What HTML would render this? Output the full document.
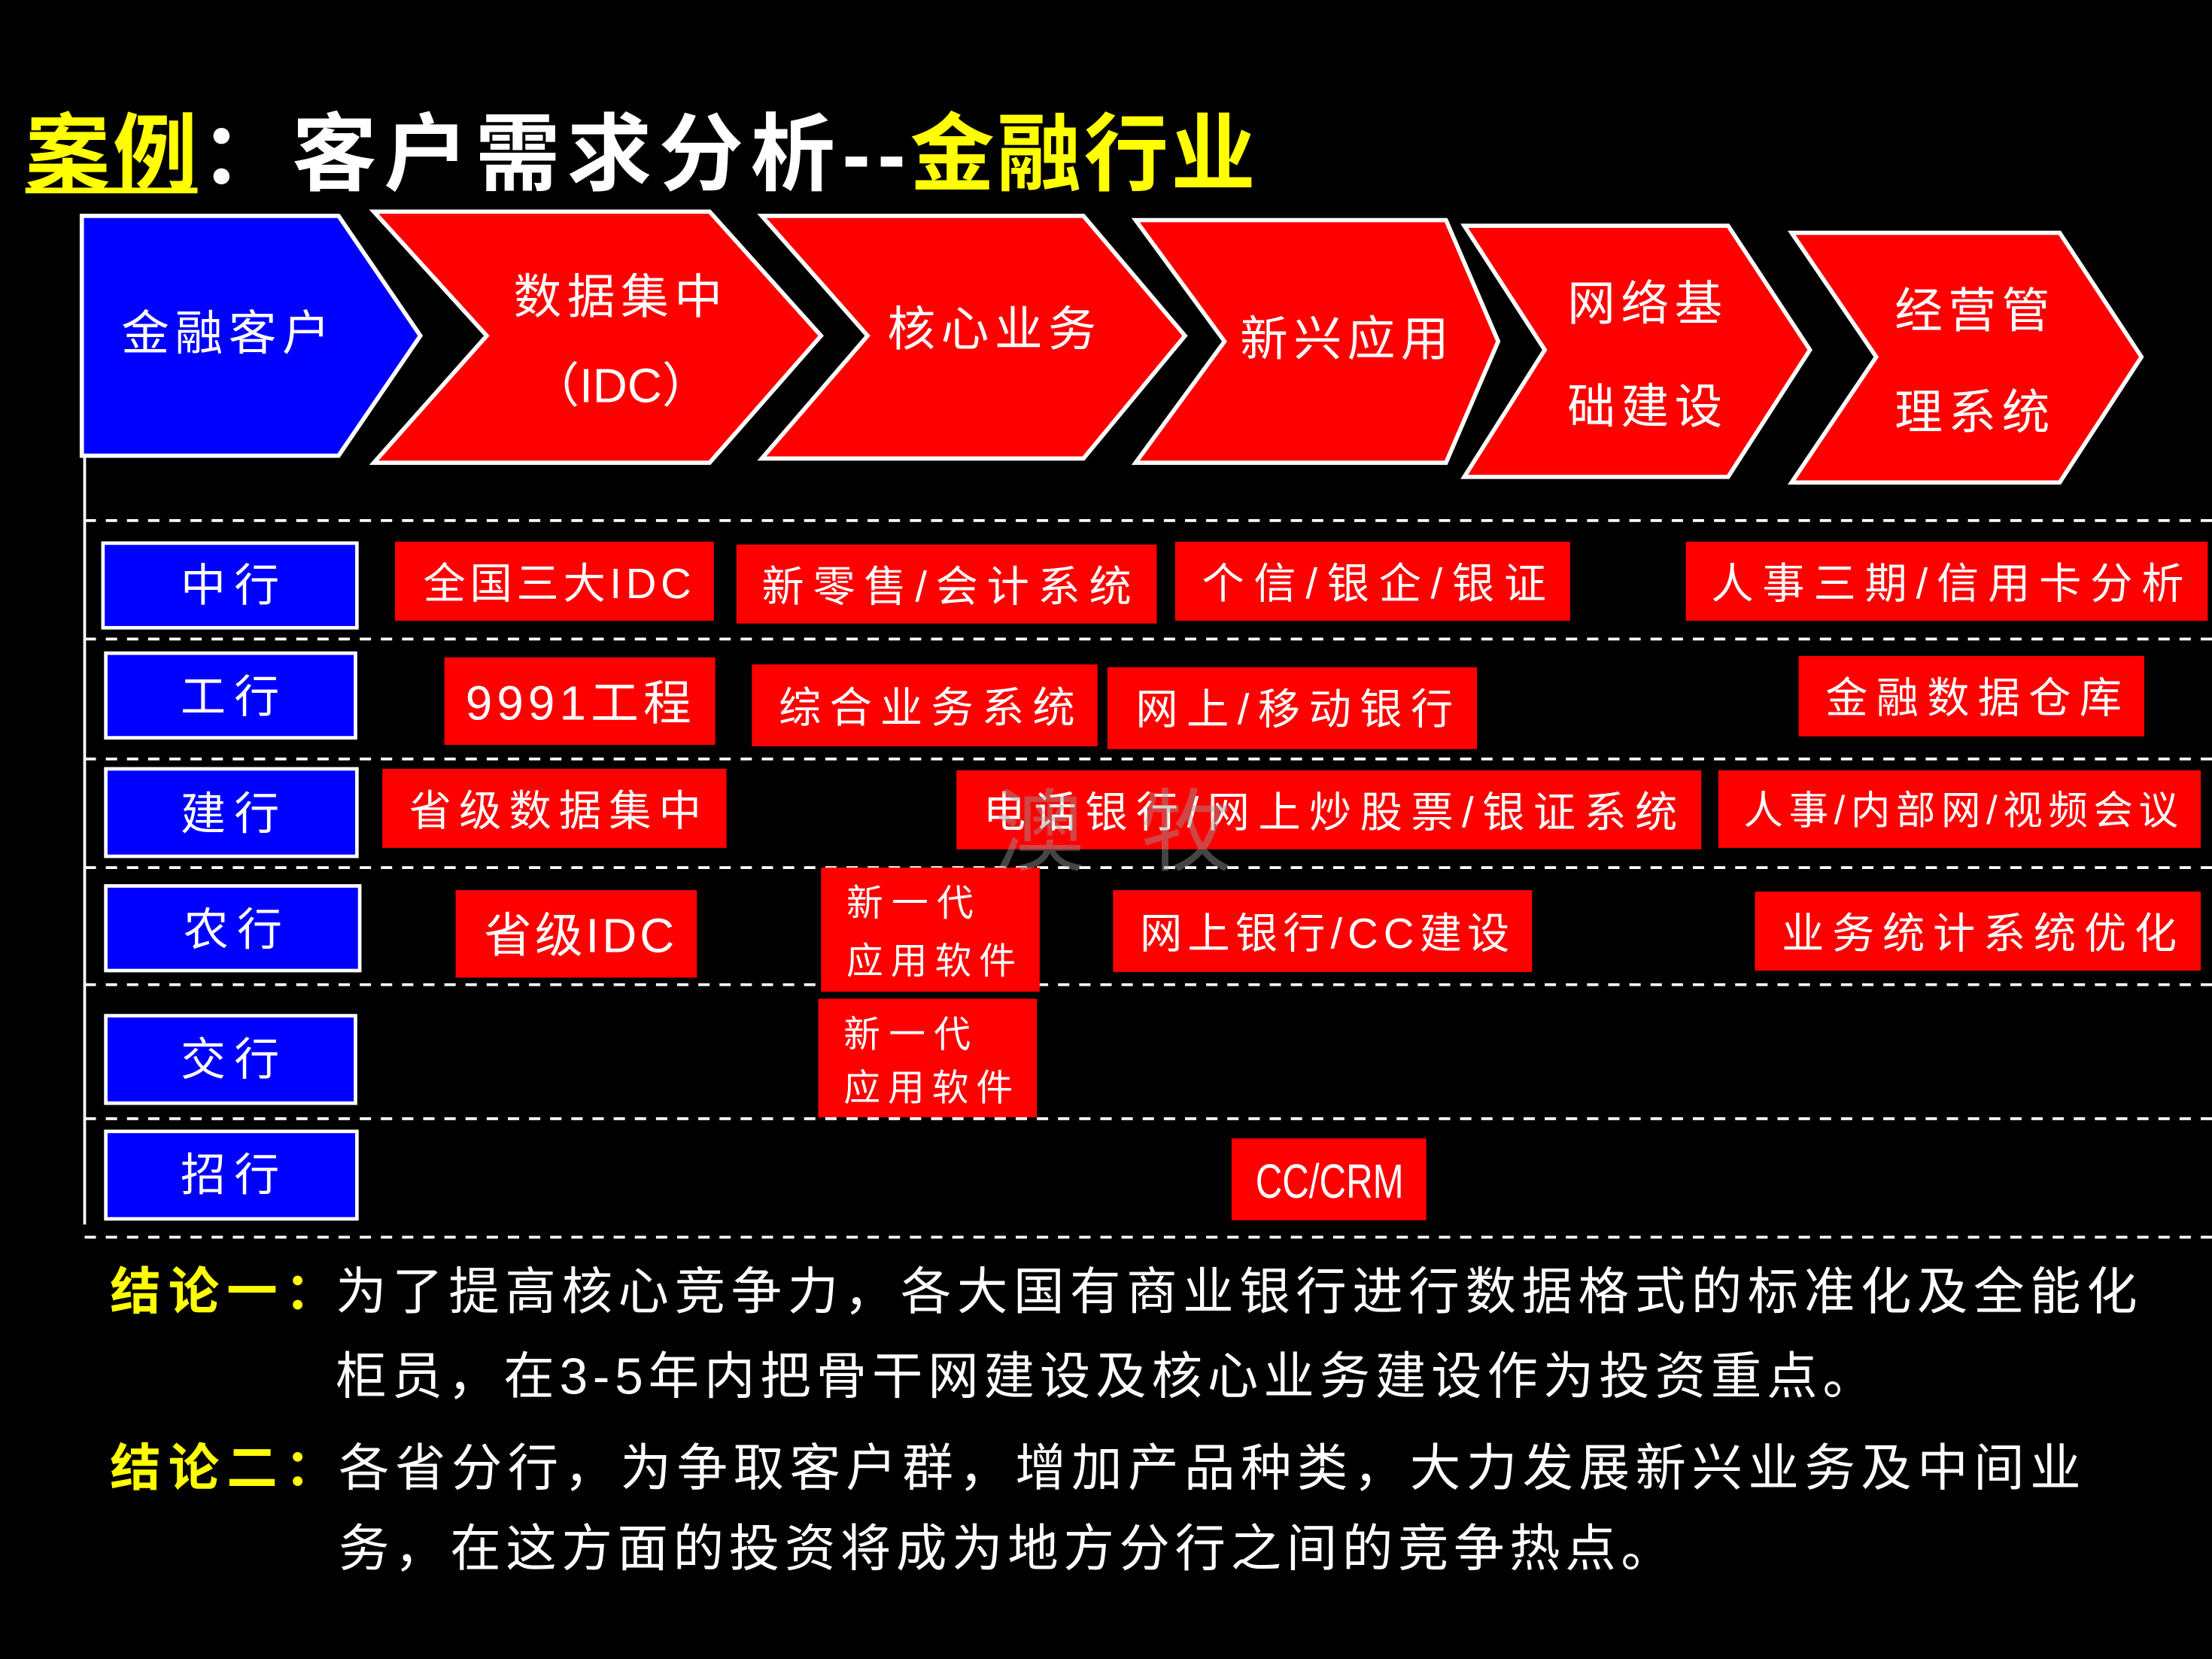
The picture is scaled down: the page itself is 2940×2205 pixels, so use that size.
<!DOCTYPE html>
<html><head><meta charset="utf-8"><style>
html,body{margin:0;padding:0;background:#000;}
svg{display:block;}
text{font-family:"Liberation Sans","Noto Sans CJK SC",sans-serif;}
</style></head><body>
<svg width="2940" height="2205" viewBox="0 0 1568 1176" xmlns="http://www.w3.org/2000/svg">
<rect width="1568" height="1176" fill="#000"/>
<!-- title -->
<text x="18" y="130" font-size="60" font-weight="bold" fill="#ffff00" textLength="122">案例</text>
<rect x="18" y="133" width="122" height="4" fill="#ffff00"/>
<text x="142" y="130" font-size="60" font-weight="bold" fill="#fff" textLength="500">：客户需求分析--</text>
<text x="645" y="130" font-size="60" font-weight="bold" fill="#ffff00" textLength="245">金融行业</text>

<!-- chevrons -->
<g stroke="#fff" stroke-width="3">
<polygon points="58,153 240,153 298,238 240,323 58,323" fill="#0000ff"/>
<polygon points="265,150 503,150 582,238 503,328 265,328 345,238" fill="#ff0000"/>
<polygon points="540,153 768,153 840,238 768,325 540,325 615,238" fill="#ff0000"/>
<polygon points="805,156 1025,156 1062,242 1025,328 805,328 868,242" fill="#ff0000"/>
<polygon points="1038,160 1225,160 1283,248 1225,338 1038,338 1095,248" fill="#ff0000"/>
<polygon points="1270,165 1460,165 1518,253 1460,342 1270,342 1330,253" fill="#ff0000"/>
</g>
<g fill="#fff" font-size="34" text-anchor="middle">
<text x="162" y="248" letter-spacing="4">金融客户</text>
<text x="440" y="222" letter-spacing="4">数据集中</text>
<text x="440" y="285">（IDC）</text>
<text x="705" y="245" letter-spacing="4">核心业务</text>
<text x="955" y="252" letter-spacing="4">新兴应用</text>
<text x="1168" y="227" letter-spacing="4">网络基</text>
<text x="1168" y="300" letter-spacing="4">础建设</text>
<text x="1400" y="232" letter-spacing="4">经营管</text>
<text x="1400" y="304" letter-spacing="4">理系统</text>
</g>

<!-- grid -->
<line x1="60" y1="323" x2="60" y2="868" stroke="#fff" stroke-width="2"/>
<g stroke="#fff" stroke-width="2" stroke-dasharray="8,7">
<line x1="60" y1="369" x2="1568" y2="369"/>
<line x1="60" y1="453" x2="1568" y2="453"/>
<line x1="60" y1="538" x2="1568" y2="538"/>
<line x1="60" y1="615" x2="1568" y2="615"/>
<line x1="60" y1="698" x2="1568" y2="698"/>
<line x1="60" y1="793" x2="1568" y2="793"/>
<line x1="60" y1="877" x2="1568" y2="877"/>
</g>

<!-- bank boxes -->
<g fill="#0000ff" stroke="#fff" stroke-width="2.5">
<rect x="73" y="385" width="180" height="60"/>
<rect x="75" y="463" width="177" height="60"/>
<rect x="75" y="545" width="178" height="62"/>
<rect x="75" y="628" width="180" height="60"/>
<rect x="75" y="720" width="177" height="62"/>
<rect x="75" y="802" width="178" height="62"/>
</g>
<g fill="#fff" font-size="32" text-anchor="middle" letter-spacing="6">
<text x="166" y="426">中行</text>
<text x="166" y="505">工行</text>
<text x="166" y="588">建行</text>
<text x="168" y="670">农行</text>
<text x="166" y="762">交行</text>
<text x="166" y="844">招行</text>
</g>

<!-- red boxes -->
<g fill="#ff0000">
<rect x="280" y="384" width="226" height="56"/>
<rect x="522" y="386" width="298" height="56"/>
<rect x="833" y="384" width="280" height="56"/>
<rect x="1195" y="384" width="370" height="56"/>
<rect x="315" y="466" width="192" height="62"/>
<rect x="533" y="471" width="245" height="58"/>
<rect x="785" y="473" width="262" height="58"/>
<rect x="1275" y="465" width="245" height="57"/>
<rect x="271" y="545" width="244" height="56"/>
<rect x="678" y="546" width="528" height="56"/>
<rect x="1218" y="546" width="342" height="55"/>
<rect x="323" y="631" width="171" height="62"/>
<rect x="582" y="615" width="155" height="88"/>
<rect x="789" y="631" width="297" height="58"/>
<rect x="1244" y="632" width="316" height="56"/>
<rect x="580" y="708" width="155" height="84"/>
<rect x="873" y="807" width="138" height="58"/>
</g>
<g fill="#fff" font-size="30">
<text x="300" y="424" textLength="190">全国三大IDC</text>
<text x="540" y="426" textLength="262">新零售/会计系统</text>
<text x="852" y="424" textLength="244">个信/银企/银证</text>
<text x="1213" y="424" textLength="335">人事三期/信用卡分析</text>
<text x="330" y="510" font-size="34" textLength="160">9991工程</text>
<text x="552" y="512" textLength="210">综合业务系统</text>
<text x="805" y="513" textLength="225">网上/移动银行</text>
<text x="1294" y="505" textLength="210">金融数据仓库</text>
<text x="290" y="585" textLength="207">省级数据集中</text>
<text x="697" y="586" textLength="492">电话银行/网上炒股票/银证系统</text>
<text x="1236" y="584" font-size="28" textLength="308">人事/内部网/视频会议</text>
<text x="343" y="675" font-size="34" textLength="135">省级IDC</text>
<text x="600" y="649" font-size="26" textLength="90">新一代</text>
<text x="600" y="690" font-size="26" textLength="120">应用软件</text>
<text x="808" y="672" textLength="262">网上银行/CC建设</text>
<text x="1263" y="672" textLength="280">业务统计系统优化</text>
<text x="598" y="742" font-size="26" textLength="90">新一代</text>
<text x="598" y="780" font-size="26" textLength="120">应用软件</text>
<text x="890" y="849" font-size="34" textLength="105" lengthAdjust="spacingAndGlyphs">CC/CRM</text>
</g>
<text x="705" y="612" font-size="64" fill="#999" fill-opacity="0.45" letter-spacing="40">澳牧</text>

<!-- conclusions -->
<g font-size="36">
<text x="78" y="928" fill="#ffff00" font-weight="bold" textLength="160">结论一：</text>
<text x="238" y="928" fill="#fff" textLength="1277">为了提高核心竞争力，各大国有商业银行进行数据格式的标准化及全能化</text>
<text x="238" y="988" fill="#fff" textLength="1090">柜员，在3-5年内把骨干网建设及核心业务建设作为投资重点。</text>
<text x="78" y="1053" fill="#ffff00" font-weight="bold" textLength="160">结论二：</text>
<text x="240" y="1053" fill="#fff" textLength="1235">各省分行，为争取客户群，增加产品种类，大力发展新兴业务及中间业</text>
<text x="240" y="1110" fill="#fff" textLength="945">务，在这方面的投资将成为地方分行之间的竞争热点。</text>
</g>
</svg>
</body></html>
